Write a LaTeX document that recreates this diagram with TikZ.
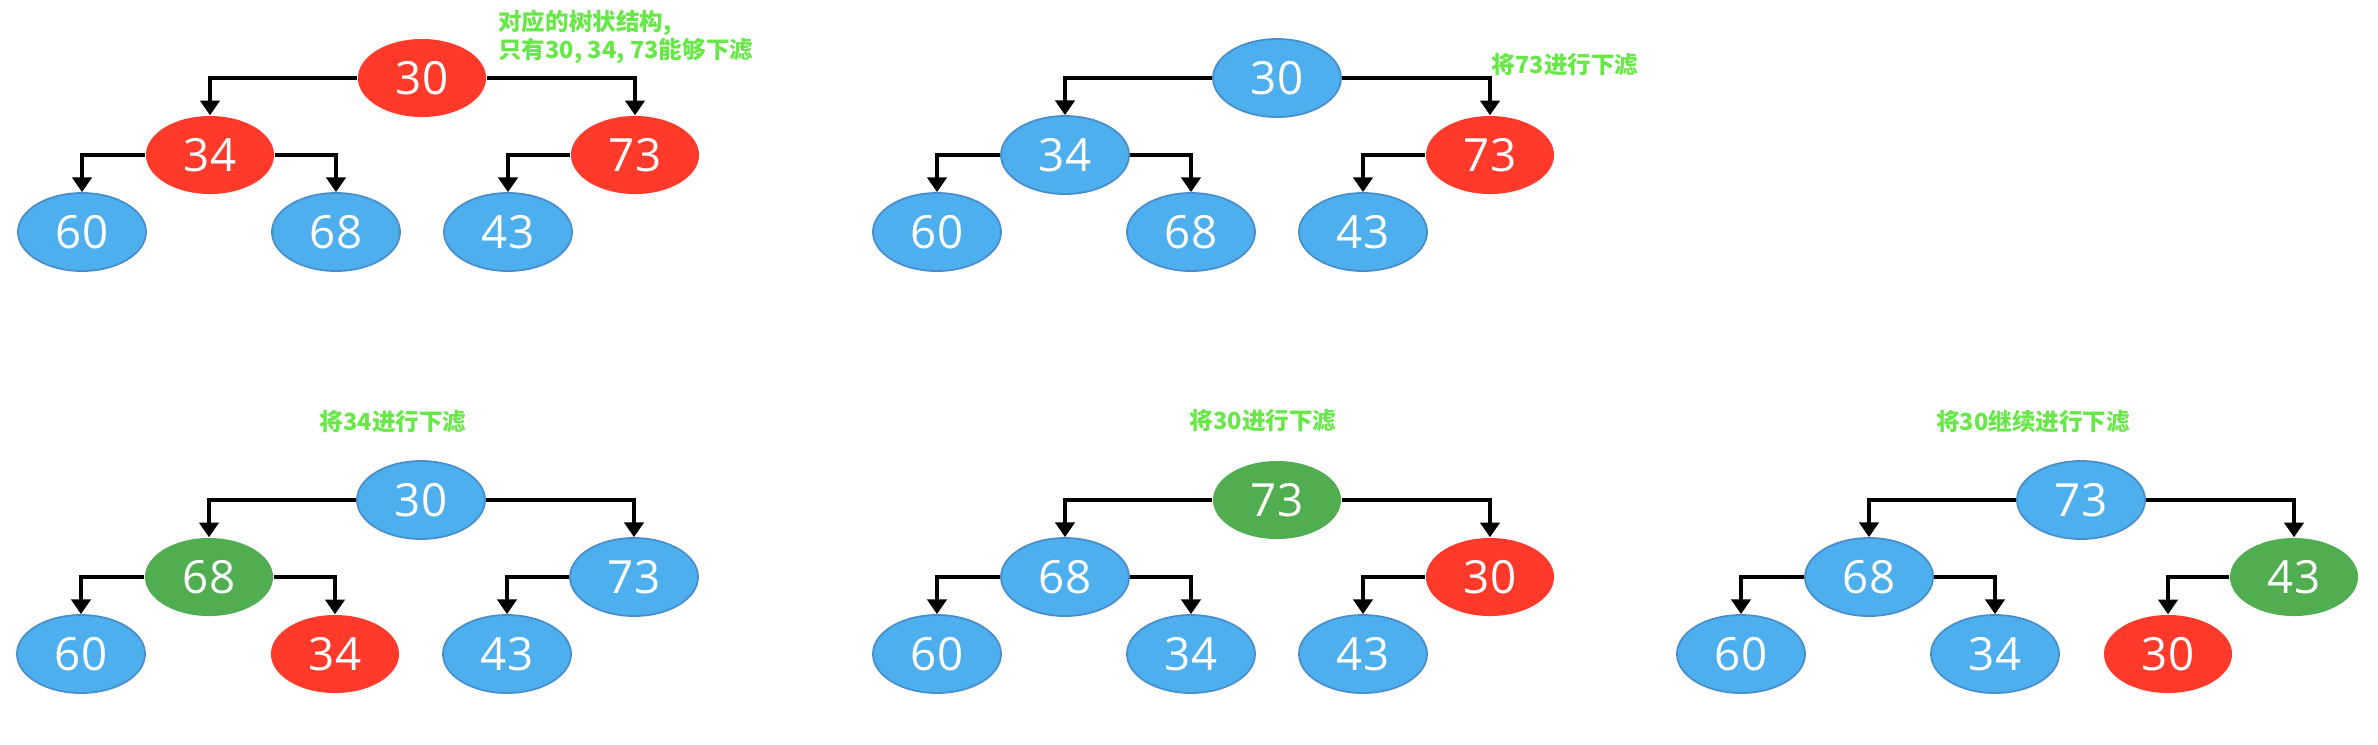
\documentclass[tikz,border=0pt]{standalone}
\usepackage{xcolor}
\usepackage{fontspec}
\usepackage{tikz}
\usetikzlibrary{arrows.meta,shapes.geometric}
\setmainfont{Open Sans}
\newfontfamily\cjk{Noto Sans CJK SC}

\definecolor{heapblue}{RGB}{77,175,237}
\definecolor{heapedge}{RGB}{72,142,204}
\definecolor{heapred}{RGB}{255,58,42}
\definecolor{heapgreen}{RGB}{80,174,80}
\definecolor{notegreen}{RGB}{104,232,72}

\tikzset{
  elem/.style={ellipse, minimum width=1.28cm, minimum height=0.78cm, inner sep=0pt,
    text=white, font=\fontsize{13}{15}\selectfont},
  cold/.style={elem, fill=heapblue, draw=heapedge, line width=0.5pt},
  sift/.style={elem, fill=heapred},
  done/.style={elem, fill=heapgreen},
  link/.style={-{Triangle[width=5.5pt,length=4.2pt]}, line width=1pt, black},
  note/.style={text=notegreen, font=\cjk\bfseries\fontsize{6.7}{8.2}\selectfont}
}

\begin{document}
\begin{tikzpicture}[x=0.01cm, y=-0.01cm]
        \useasboundingbox (0,0) rectangle (2378,744);

        % the tree as it is
        \node[sift] (a30) at (422,78) {30};
        \node[sift] (a34) at (210,155) {34};
        \node[sift] (a73) at (635,155) {73};
        \node[cold] (a60) at (82,232) {60};
        \node[cold] (a68) at (336,232) {68};
        \node[cold] (a43) at (508,232) {43};
        \draw[link] (a30.west) -| (a34.north);
        \draw[link] (a30.east) -| (a73.north);
        \draw[link] (a34.west) -| (a60.north);
        \draw[link] (a34.east) -| (a68.north);
        \draw[link] (a73.west) -| (a43.north);
        \node[note, anchor=west, align=left] (anote) at (486,37) {对应的树状结构,\\只有30, 34, 73能够下滤};

        % 73
        \node[cold] (b30) at (1277,78) {30};
        \node[cold] (b34) at (1065,155) {34};
        \node[sift] (b73) at (1490,155) {73};
        \node[cold] (b60) at (937,232) {60};
        \node[cold] (b68) at (1191,232) {68};
        \node[cold] (b43) at (1363,232) {43};
        \draw[link] (b30.west) -| (b34.north);
        \draw[link] (b30.east) -| (b73.north);
        \draw[link] (b34.west) -| (b60.north);
        \draw[link] (b34.east) -| (b68.north);
        \draw[link] (b73.west) -| (b43.north);
        \node[note] (bnote) at (1565,65) {将73进行下滤};

        % 34
        \node[cold] (c30) at (421,500) {30};
        \node[done] (c68) at (209,577) {68};
        \node[cold] (c73) at (634,577) {73};
        \node[cold] (c60) at (81,654) {60};
        \node[sift] (c34) at (335,654) {34};
        \node[cold] (c43) at (507,654) {43};
        \draw[link] (c30.west) -| (c68.north);
        \draw[link] (c30.east) -| (c73.north);
        \draw[link] (c68.west) -| (c60.north);
        \draw[link] (c68.east) -| (c34.north);
        \draw[link] (c73.west) -| (c43.north);
        \node[note] (cnote) at (393,422) {将34进行下滤};

        % 30
        \node[done] (d73) at (1277,500) {73};
        \node[cold] (d68) at (1065,577) {68};
        \node[sift] (d30) at (1490,577) {30};
        \node[cold] (d60) at (937,654) {60};
        \node[cold] (d34) at (1191,654) {34};
        \node[cold] (d43) at (1363,654) {43};
        \draw[link] (d73.west) -| (d68.north);
        \draw[link] (d73.east) -| (d30.north);
        \draw[link] (d68.west) -| (d60.north);
        \draw[link] (d68.east) -| (d34.north);
        \draw[link] (d30.west) -| (d43.north);
        \node[note] (dnote) at (1263,421) {将30进行下滤};

        % 30 again
        \node[cold] (e73) at (2081,500) {73};
        \node[cold] (e68) at (1869,577) {68};
        \node[done] (e43) at (2294,577) {43};
        \node[cold] (e60) at (1741,654) {60};
        \node[cold] (e34) at (1995,654) {34};
        \node[sift] (e30) at (2168,654) {30};
        \draw[link] (e73.west) -| (e68.north);
        \draw[link] (e73.east) -| (e43.north);
        \draw[link] (e68.west) -| (e60.north);
        \draw[link] (e68.east) -| (e34.north);
        \draw[link] (e43.west) -| (e30.north);
        \node[note] (enote) at (2033,422) {将30继续进行下滤};
    \end{tikzpicture}
\end{document}
